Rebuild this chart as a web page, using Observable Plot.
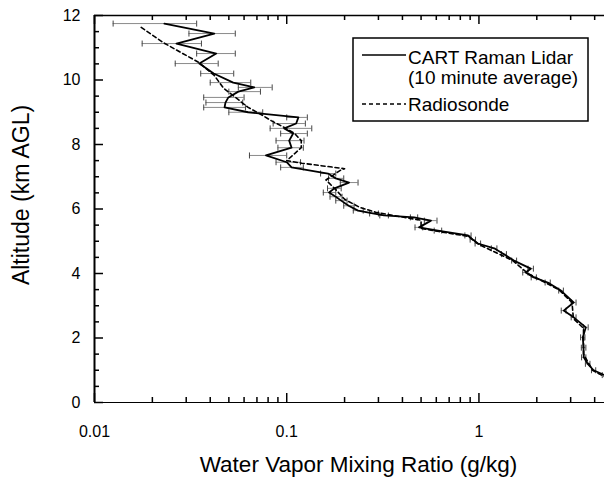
<!DOCTYPE html>
<html><head><meta charset="utf-8">
<script src="https://cdn.jsdelivr.net/npm/d3@7"></script>
<script src="https://cdn.jsdelivr.net/npm/@observablehq/plot@0.6"></script>
<style>
body{margin:0;background:#fff}
#chart{position:relative;width:605px;height:478px;overflow:hidden}
</style>
</head><body><div id="chart"></div>
<script>
// CART Raman Lidar (10 minute average): altitude (km AGL), mixing ratio (g/kg), error bar low/high
const lidarAlt = [11.75,11.44,11.13,10.82,10.51,10.2,9.92,9.77,9.64,9.46,9.3,9.15,9.0,8.84,8.65,8.5,8.34,8.12,7.9,7.66,7.45,7.29,7.1,6.95,6.82,6.64,6.51,6.38,6.26,6.1,5.95,5.86,5.8,5.74,5.64,5.43,5.33,5.18,5.05,4.93,4.78,4.6,4.4,4.15,4.03,3.88,3.72,3.47,3.1,2.85,2.64,2.33,2.02,1.7,1.4,1.2,1.0,0.85];
const lidarMix = [0.0231,0.042,0.0267,0.043,0.0351,0.0417,0.0527,0.0678,0.056,0.0497,0.048,0.0475,0.063,0.115,0.112,0.097,0.108,0.103,0.106,0.078,0.1,0.106,0.164,0.18,0.211,0.177,0.166,0.18,0.192,0.21,0.235,0.285,0.321,0.459,0.563,0.488,0.612,0.877,0.93,0.988,1.2,1.35,1.52,1.86,1.75,1.93,2.28,2.67,3.11,2.76,3.11,3.6,3.47,3.5,3.51,3.68,3.95,4.5];
const lidarLo  = [0.0125,0.031,0.0177,0.034,0.0263,0.0357,0.040,0.056,0.050,0.037,0.038,0.037,0.050,0.10,0.085,0.082,0.093,0.088,0.09,0.064,0.088,0.093,0.15,0.165,0.19,0.163,0.155,0.168,0.18,0.198,0.222,0.27,0.305,0.44,0.52,0.465,0.585,0.845,0.9,0.955,1.16,1.31,1.48,1.8,1.69,1.87,2.21,2.6,3.02,2.68,3.02,3.5,3.38,3.41,3.42,3.58,3.85,4.38];
const lidarHi  = [0.034,0.054,0.036,0.054,0.044,0.053,0.065,0.084,0.073,0.060,0.059,0.061,0.075,0.128,0.125,0.135,0.128,0.123,0.122,0.10,0.118,0.122,0.18,0.198,0.235,0.192,0.18,0.194,0.206,0.224,0.25,0.30,0.338,0.48,0.605,0.51,0.64,0.91,0.96,1.02,1.24,1.39,1.57,1.92,1.8,1.99,2.35,2.75,3.2,2.84,3.2,3.7,3.56,3.6,3.6,3.78,4.05,4.62];

// Radiosonde
const sondeAlt = [11.63,11.16,10.85,10.54,10.14,9.74,9.43,9.15,8.96,8.74,8.53,8.34,8.12,7.9,7.72,7.5,7.42,7.25,7.2,6.9,6.6,6.3,6.05,5.9,5.75,5.65,5.4,5.3,5.15,4.9,4.4,4.0,3.5,3.1,2.6,2.3,1.5,1.0,0.8];
const sondeMix = [0.0175,0.0228,0.0282,0.035,0.042,0.047,0.055,0.063,0.072,0.083,0.097,0.11,0.119,0.119,0.11,0.1,0.12,0.2,0.19,0.16,0.18,0.2,0.24,0.29,0.4,0.5,0.5,0.62,0.88,1.0,1.5,1.8,2.6,3.05,3.1,3.5,3.5,3.9,4.5];

const xMajorTicks = [0.01,0.1,1];
const xMinorTicks = [0.02,0.03,0.04,0.05,0.06,0.07,0.08,0.09,0.2,0.3,0.4,0.5,0.6,0.7,0.8,0.9,2,3,4];
const yMajorTicks = [0,2,4,6,8,10,12];
const yMinorTicks = [0.5,1,1.5,2.5,3,3.5,4.5,5,5.5,6.5,7,7.5,8.5,9,9.5,10.5,11,11.5];
const xTitle = "Water Vapor Mixing Ratio (g/kg)";
const yTitle = "Altitude (km AGL)";
const legendLabels = ["CART Raman Lidar", "(10 minute average)", "Radiosonde"];

const lidar = lidarAlt.map((y, i) => ({y, x: lidarMix[i], lo: lidarLo[i], hi: lidarHi[i]}));
const sonde = sondeAlt.map((y, i) => ({y, x: sondeMix[i]}));

const W = 605, H = 478, ML = 94, MR = 1, MT = 15, MB = 76;
const xDomain = [0.01, 4.5], yDomain = [0, 12];
const xs = Plot.scale({x: {type: "log", domain: xDomain, range: [ML, W - MR]}});
const ys = Plot.scale({y: {domain: yDomain, range: [H - MB, MT]}});
// tick end positions converted back to data through the scales
const xTick = len => xs.invert(ML + len);
const yTickUp = len => ys.invert(H - MB - len);
const yTickDown = len => ys.invert(MT + len);

const capSymbol = {draw(ctx, size) { const h = Math.sqrt(size / Math.PI); ctx.moveTo(0, -h); ctx.lineTo(0, h); }};
const font = "'Liberation Sans', Arial, Helvetica, sans-serif";
const tk = {stroke: "#000", strokeWidth: 1.5};

const chart = Plot.plot({
  width: W, height: H,
  marginLeft: ML, marginRight: MR, marginTop: MT, marginBottom: MB,
  style: {fontFamily: font, fontSize: "16px", color: "#000", background: "#fff"},
  x: {type: "log", domain: xDomain},
  y: {domain: yDomain},
  marks: [
    // error bars
    Plot.ruleY(lidar, {y: "y", x1: "lo", x2: "hi", stroke: "#8a8a8a", strokeWidth: 1, clip: true}),
    Plot.dot(lidar, {x: "lo", y: "y", symbol: capSymbol, r: 3, stroke: "#444", strokeWidth: 1, clip: true}),
    Plot.dot(lidar, {x: "hi", y: "y", symbol: capSymbol, r: 3, stroke: "#444", strokeWidth: 1, clip: true}),
    // radiosonde
    Plot.line(sonde, {x: "x", y: "y", stroke: "#000", strokeWidth: 1.6, strokeDasharray: "4,3", clip: true}),
    // lidar
    Plot.line(lidar, {x: "x", y: "y", stroke: "#000", strokeWidth: 1.8, clip: true}),
    // axis lines
    Plot.ruleX([0.01], {stroke: "#000", strokeWidth: 2}),
    Plot.ruleY([0], {stroke: "#000", strokeWidth: 1.2}),
    Plot.ruleY([12], {stroke: "#000", strokeWidth: 1.5}),
    // inward ticks
    Plot.ruleY(yMajorTicks, {y: d => d, x1: () => 0.01, x2: () => xTick(9), ...tk}),
    Plot.ruleY(yMinorTicks, {y: d => d, x1: () => 0.01, x2: () => xTick(5), ...tk}),
    Plot.ruleX(xMajorTicks, {x: d => d, y1: () => 0, y2: () => yTickUp(9), ...tk}),
    Plot.ruleX(xMinorTicks, {x: d => d, y1: () => 0, y2: () => yTickUp(5), ...tk}),
    Plot.ruleX(xMajorTicks, {x: d => d, y1: () => 12, y2: () => yTickDown(9), ...tk}),
    Plot.ruleX(xMinorTicks, {x: d => d, y1: () => 12, y2: () => yTickDown(5), ...tk}),
    // tick labels
    Plot.axisY(yMajorTicks, {anchor: "left", tickSize: 0, tickPadding: 14, tickFormat: d => String(d), label: null, fontSize: 16}),
    Plot.axisX(xMajorTicks, {anchor: "bottom", tickSize: 0, tickPadding: 23, tickFormat: d => String(d), label: null, fontSize: 16}),
    // titles
    Plot.text([xTitle], {frameAnchor: "bottom", dx: 9, dy: 54, lineAnchor: "top", fontSize: 22.5, text: d => d}),
    Plot.text([yTitle], {frameAnchor: "left", dx: -73, dy: -14, rotate: -90, textAnchor: "middle", lineAnchor: "middle", fontSize: 23, text: d => d})
  ]
});
document.getElementById("chart").appendChild(chart);

// legend box inside plot
const svg = d3.select(chart);
const lg = svg.append("g").attr("font-family", font).attr("font-size", 19).attr("fill", "#000").attr("text-anchor", "start");
lg.append("rect").attr("x", 353).attr("y", 38).attr("width", 235).attr("height", 83)
  .attr("fill", "#fff").attr("stroke", "#000").attr("stroke-width", 1.5);
lg.append("line").attr("x1", 362).attr("x2", 406).attr("y1", 55).attr("y2", 55).attr("stroke", "#000").attr("stroke-width", 1.6);
lg.append("line").attr("x1", 362).attr("x2", 406).attr("y1", 104).attr("y2", 104).attr("stroke", "#000").attr("stroke-width", 1.4).attr("stroke-dasharray", "4,3");
[[legendLabels[0], 57], [legendLabels[1], 77], [legendLabels[2], 104]].forEach(([t, y]) => {
  lg.append("text").attr("x", 408).attr("y", y).attr("dy", "0.35em").attr("text-anchor", "start").text(t);
});
</script>
</body></html>
